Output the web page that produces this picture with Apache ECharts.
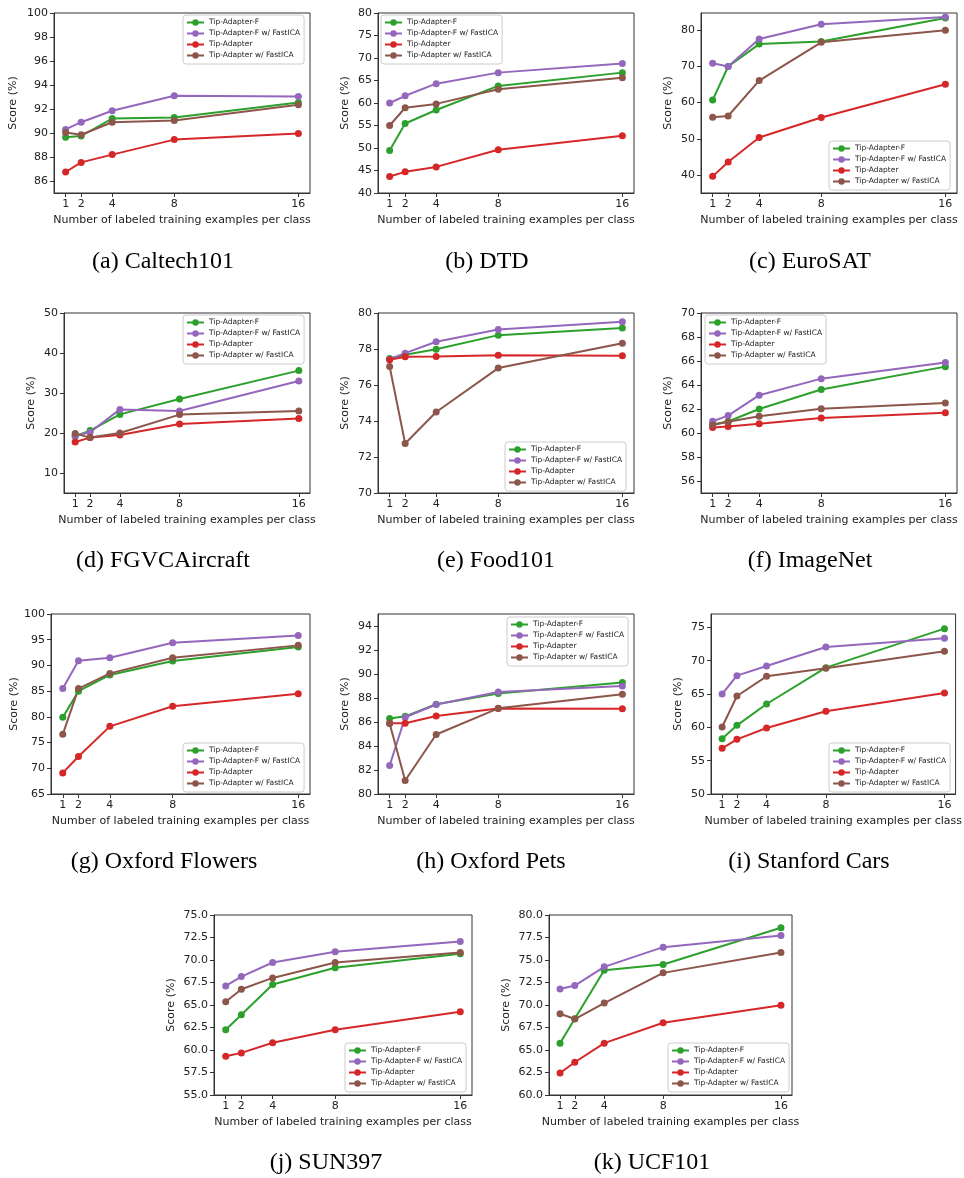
<!DOCTYPE html>
<html><head><meta charset="utf-8">
<script src="https://cdn.jsdelivr.net/npm/echarts@6/dist/echarts.min.js"></script>
<style>html,body{margin:0;padding:0;background:#fff}#c{width:964px;height:1178px}</style>
</head><body><div id="c"></div>
<script>
// ---------- DATA ----------
const shots = [1, 2, 4, 8, 16];
const xTicks = [1, 2, 4, 8, 16];
const methods = ['Tip-Adapter-F', 'Tip-Adapter-F w/ FastICA', 'Tip-Adapter', 'Tip-Adapter w/ FastICA'];
const captions = ['(a) Caltech101', '(b) DTD', '(c) EuroSAT', '(d) FGVCAircraft', '(e) Food101', '(f) ImageNet',
  '(g) Oxford Flowers', '(h) Oxford Pets', '(i) Stanford Cars', '(j) SUN397', '(k) UCF101'];

// rows follow the order of `methods`, columns follow `shots`
const caltech101 = [
  [89.65, 89.75, 91.2, 91.3, 92.55],
  [90.3, 90.9, 91.85, 93.1, 93.05],
  [86.75, 87.55, 88.2, 89.45, 89.95],
  [90.05, 89.85, 90.9, 91.05, 92.35]];
const dtd = [
  [49.45, 55.45, 58.45, 63.8, 66.75],
  [60.0, 61.6, 64.3, 66.75, 68.8],
  [43.65, 44.7, 45.8, 49.6, 52.7],
  [55.0, 58.95, 59.8, 63.05, 65.6]];
const eurosat = [
  [60.7, 70.0, 76.2, 76.9, 83.4],
  [70.9, 70.0, 77.6, 81.7, 83.7],
  [39.6, 43.6, 50.35, 55.9, 65.1],
  [55.95, 56.3, 66.1, 76.7, 80.0]];
const fgvcAircraft = [
  [19.2, 20.6, 24.65, 28.5, 35.6],
  [19.3, 20.2, 25.9, 25.5, 33.0],
  [17.75, 18.85, 19.5, 22.25, 23.65],
  [19.85, 18.85, 20.0, 24.6, 25.5]];
const food101 = [
  [77.47, 77.68, 77.99, 78.77, 79.16],
  [77.43, 77.77, 78.4, 79.08, 79.52],
  [77.4, 77.57, 77.58, 77.65, 77.62],
  [77.03, 72.75, 74.5, 76.94, 78.32]];
const imagenet = [
  [60.7, 60.96, 62.0, 63.63, 65.53],
  [60.98, 61.45, 63.15, 64.53, 65.88],
  [60.46, 60.55, 60.78, 61.25, 61.68],
  [60.66, 60.93, 61.4, 62.03, 62.5]];
const oxfordFlowers = [
  [79.9, 85.0, 88.15, 90.85, 93.6],
  [85.5, 90.9, 91.5, 94.4, 95.8],
  [69.1, 72.3, 78.15, 82.05, 84.5],
  [76.6, 85.5, 88.45, 91.5, 93.9]];
const oxfordPets = [
  [86.3, 86.47, 87.48, 88.38, 89.3],
  [82.38, 86.4, 87.46, 88.5, 89.0],
  [85.9, 85.9, 86.5, 87.12, 87.1],
  [85.88, 81.12, 84.96, 87.14, 88.32]];
const stanfordCars = [
  [58.3, 60.3, 63.5, 68.95, 74.8],
  [65.0, 67.75, 69.2, 72.05, 73.35],
  [56.85, 58.2, 59.9, 62.4, 65.15],
  [60.05, 64.7, 67.65, 68.85, 71.4]];
const sun397 = [
  [62.25, 63.92, 67.27, 69.13, 70.7],
  [67.12, 68.16, 69.72, 70.91, 72.06],
  [59.31, 59.68, 60.8, 62.25, 64.26],
  [65.37, 66.75, 68.01, 69.72, 70.84]];
const ucf101 = [
  [65.76, 68.48, 73.87, 74.5, 78.59],
  [71.78, 72.16, 74.24, 76.43, 77.73],
  [62.45, 63.64, 65.76, 68.03, 69.96],
  [69.03, 68.44, 70.22, 73.57, 75.84]];

// y tick labels per panel
const yTicksCaltech101 = [86, 88, 90, 92, 94, 96, 98, 100];
const yTicksDtd = [40, 45, 50, 55, 60, 65, 70, 75, 80];
const yTicksEurosat = [40, 50, 60, 70, 80];
const yTicksFgvc = [10, 20, 30, 40, 50];
const yTicksFood = [70, 72, 74, 76, 78, 80];
const yTicksImagenet = [56, 58, 60, 62, 64, 66, 68, 70];
const yTicksFlowers = [65, 70, 75, 80, 85, 90, 95, 100];
const yTicksPets = [80, 82, 84, 86, 88, 90, 92, 94];
const yTicksCars = [50, 55, 60, 65, 70, 75];
const yTicksSun = [55.0, 57.5, 60.0, 62.5, 65.0, 67.5, 70.0, 72.5, 75.0];
const yTicksUcf = [60.0, 62.5, 65.0, 67.5, 70.0, 72.5, 75.0, 77.5, 80.0];

// ---------- LAYOUT ----------
const colors = ['#2ca02c', '#9467bd', '#d62728', '#8c564b'];
const panels = [
  {data: caltech101, ticks: yTicksCaltech101, min: 85, max: 100, grid: [54, 13, 256, 180], legend: [183, 15], gap: 35, dec: 0, cap: [163, 262]},
  {data: dtd, ticks: yTicksDtd, min: 40, max: 80, grid: [378, 13, 256, 180], legend: [381, 15], gap: 27, dec: 0, cap: [487, 262]},
  {data: eurosat, ticks: yTicksEurosat, min: 35, max: 84.8, grid: [701, 13, 256, 180], legend: [829, 141], gap: 27, dec: 0, cap: [810, 262]},
  {data: fgvcAircraft, ticks: yTicksFgvc, min: 5, max: 50, grid: [64, 313, 246, 180], legend: [183, 315], gap: 27, dec: 0, cap: [163, 561]},
  {data: food101, ticks: yTicksFood, min: 70, max: 80, grid: [378, 313, 256, 180], legend: [505, 442], gap: 27, dec: 0, cap: [496, 561]},
  {data: imagenet, ticks: yTicksImagenet, min: 55, max: 70, grid: [701, 313, 256, 180], legend: [705, 315], gap: 27, dec: 0, cap: [810, 561]},
  {data: oxfordFlowers, ticks: yTicksFlowers, min: 65, max: 100, grid: [51, 614, 259, 180], legend: [183, 743], gap: 31, dec: 0, cap: [164, 862]},
  {data: oxfordPets, ticks: yTicksPets, min: 80, max: 95, grid: [378, 614, 256, 180], legend: [507, 617], gap: 27, dec: 0, cap: [491, 862]},
  {data: stanfordCars, ticks: yTicksCars, min: 50, max: 77, grid: [711, 614, 246, 180], legend: [829, 743], gap: 27, dec: 0, cap: [809, 862]},
  {data: sun397, ticks: yTicksSun, min: 55, max: 75, grid: [214, 915, 258, 180], legend: [345, 1043], gap: 37, dec: 1, cap: [326, 1163]},
  {data: ucf101, ticks: yTicksUcf, min: 60, max: 80, grid: [549, 915, 243, 180], legend: [668, 1043], gap: 37, dec: 1, cap: [652, 1163]}
];

const FONT = 'DejaVu Sans';
const AX = '#333';
const option = {animation: false, backgroundColor: '#fff', grid: [], xAxis: [], yAxis: [], series: [], legend: [], graphic: []};

panels.forEach((p, i) => {
  option.grid.push({left: p.grid[0], top: p.grid[1], width: p.grid[2], height: p.grid[3],
    show: true, borderColor: AX, borderWidth: 1, backgroundColor: 'transparent'});
  option.xAxis.push({type: 'value', gridIndex: i, min: 0.25, max: 16.75,
    name: 'Number of labeled training examples per class', nameLocation: 'middle', nameGap: 22,
    nameTextStyle: {fontFamily: FONT, fontSize: 11, color: '#222'},
    axisLine: {show: true, lineStyle: {color: AX, width: 1}},
    axisTick: {show: true, length: 4, lineStyle: {color: AX}, customValues: xTicks},
    axisLabel: {fontFamily: FONT, fontSize: 11, color: '#222', margin: 6, customValues: xTicks},
    splitLine: {show: false}});
  option.yAxis.push({type: 'value', gridIndex: i, min: p.min, max: p.max,
    name: 'Score (%)', nameLocation: 'middle', nameGap: p.gap, nameRotate: 90,
    nameTextStyle: {fontFamily: FONT, fontSize: 11, color: '#222'},
    axisLine: {show: true, lineStyle: {color: AX, width: 1}},
    axisTick: {show: true, length: 4, lineStyle: {color: AX}, customValues: p.ticks},
    axisLabel: {fontFamily: FONT, fontSize: 11, color: '#222', margin: 6, customValues: p.ticks,
      formatter: v => Number(v).toFixed(p.dec)},
    splitLine: {show: false}});
  methods.forEach((m, k) => {
    option.series.push({type: 'line', name: m, xAxisIndex: i, yAxisIndex: i,
      data: shots.map((s, j) => [s, p.data[k][j]]),
      symbol: 'circle', symbolSize: 7, showAllSymbol: true,
      lineStyle: {color: colors[k], width: 2}, itemStyle: {color: colors[k]}});
  });
  option.legend.push({data: methods, orient: 'vertical', left: p.legend[0], top: p.legend[1],
    itemWidth: 17, itemHeight: 8, itemGap: 2, padding: [3, 4, 4, 3],
    borderColor: '#cccccc', borderWidth: 1, borderRadius: 3, backgroundColor: 'rgba(255,255,255,0.85)',
    textStyle: {fontFamily: FONT, fontSize: 7.5, color: '#222', lineHeight: 9}, selectedMode: false});
  option.graphic.push({type: 'text', x: p.cap[0], y: p.cap[1],
    style: {text: captions[i], font: '24px "Liberation Serif"', fill: '#000', textAlign: 'center', textVerticalAlign: 'middle'}});
});

const chart = echarts.init(document.getElementById('c'));
chart.setOption(option);
</script>
</body></html>
